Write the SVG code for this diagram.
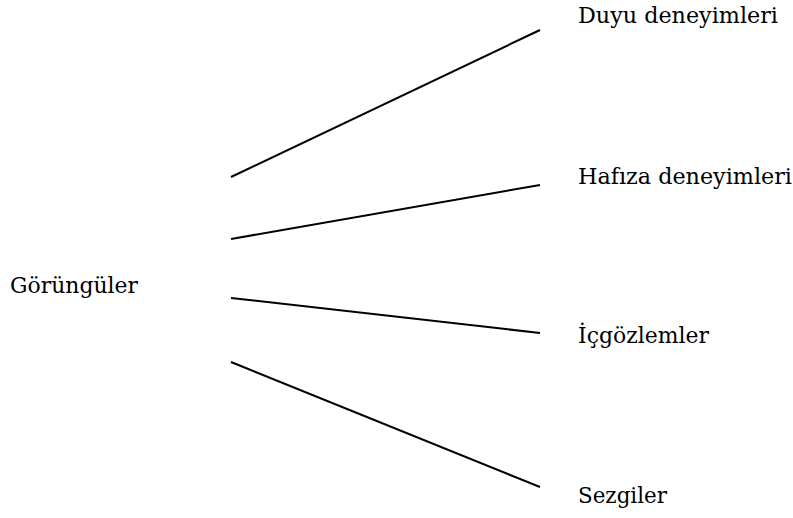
<svg xmlns="http://www.w3.org/2000/svg" width="793" height="518" viewBox="0 0 793 518">
<style>
text{font-family:"DejaVu Serif","Liberation Serif",serif;font-size:21.5px;fill:#000}
.c line{stroke:#000;stroke-width:2;fill:none}
</style>
<rect width="793" height="518" fill="#fff"/>
<g class="c" id="connectors">
<line x1="231" y1="177" x2="540" y2="30"/>
<line x1="231" y1="239" x2="540" y2="185"/>
<line x1="231" y1="298" x2="540" y2="333"/>
<line x1="231" y1="362" x2="540" y2="487"/>
</g>
<g id="root"><text x="10" y="293" textLength="128" lengthAdjust="spacingAndGlyphs">Görüngüler</text></g>
<g id="n1"><text x="578" y="23" textLength="200" lengthAdjust="spacingAndGlyphs">Duyu deneyimleri</text></g>
<g id="n2"><text x="578" y="184" textLength="214" lengthAdjust="spacingAndGlyphs">Hafıza deneyimleri</text></g>
<g id="n3"><text x="578" y="343" textLength="131" lengthAdjust="spacingAndGlyphs">İçgözlemler</text></g>
<g id="n4"><text x="578" y="503" textLength="89" lengthAdjust="spacingAndGlyphs">Sezgiler</text></g>
</svg>
